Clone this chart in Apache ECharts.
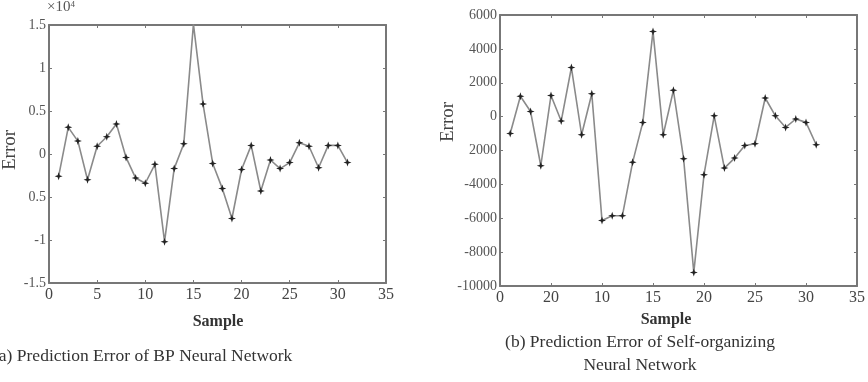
<!DOCTYPE html>
<html><head><meta charset="utf-8">
<script src="https://cdn.jsdelivr.net/npm/echarts@6/dist/echarts.min.js"></script>
<style>html,body{margin:0;padding:0;background:#fff}#c{width:868px;height:382px}</style>
</head><body><div id="c"></div>
<script>
const samples = Array.from({length:31},(_,i)=>i+1);
const bpError = [-0.26,0.31,0.15,-0.30,0.09,0.20,0.35,-0.04,-0.28,-0.34,-0.12,-1.02,-0.17,0.12,1.51,0.58,-0.11,-0.40,-0.75,-0.18,0.10,-0.43,-0.07,-0.17,-0.10,0.13,0.09,-0.16,0.10,0.10,-0.10];
const somError = [-1000,1200,300,-2900,1250,-260,2900,-1070,1350,-6130,-5850,-5850,-2700,-340,5030,-1070,1550,-2480,-9200,-3430,50,-3040,-2450,-1700,-1600,1100,50,-640,-140,-340,-1660];
const xTicksA = ['0','5','10','15','20','25','30','35'];
const xTicksB = ['0','20','10','15','20','25','30','35'];
const yTicksA = ['-1.5','-1','0.5','0','0.5','1','1.5'];
const yTicksB = ['-10000','-8000','-6000','-4000','2000','0','2000','4000','6000'];

const font = 'Liberation Serif';
const axisCol = '#777';
const star = 'path://M0,-10 L2.5,-2.5 L10,0 L2.5,2.5 L0,10 L-2.5,2.5 L-10,0 L-2.5,-2.5 Z';

function xAx(grid, pos, ticks, show){
  return {type:'value', gridIndex:grid, position:pos, min:0, max:35, interval:5,
    axisLine:{show:true, onZero:false, lineStyle:{color:axisCol,width:2}},
    axisTick:{show:true, inside:true, length:3, lineStyle:{color:axisCol}},
    splitLine:{show:false},
    axisLabel:{show:show, margin:4, color:'#444', fontFamily:font, fontSize:16,
      formatter:(v)=>ticks[Math.round(v/5)]}};
}
function yAx(grid, pos, min, max, step, ticks, show){
  return {type:'value', gridIndex:grid, position:pos, min:min, max:max, interval:step,
    axisLine:{show:true, onZero:false, lineStyle:{color:axisCol,width:2}},
    axisTick:{show:true, inside:true, length:3, lineStyle:{color:axisCol}},
    splitLine:{show:false},
    axisLabel:{show:show, margin:3, color:'#555', fontFamily:font, fontSize:14,
      formatter:(v)=>ticks[Math.round((v-min)/step)]}};
}

const chart = echarts.init(document.getElementById('c'));
chart.setOption({
  animation:false,
  backgroundColor:'#fff',
  grid:[
    {left:49, top:25, width:337, height:258},
    {left:500, top:15, width:357, height:271}
  ],
  xAxis:[
    xAx(0,'bottom',xTicksA,true), xAx(0,'top',xTicksA,false),
    xAx(1,'bottom',xTicksB,true), xAx(1,'top',xTicksB,false)
  ],
  yAxis:[
    yAx(0,'left',-1.5,1.5,0.5,yTicksA,true), yAx(0,'right',-1.5,1.5,0.5,yTicksA,false),
    yAx(1,'left',-10000,6000,2000,yTicksB,true), yAx(1,'right',-10000,6000,2000,yTicksB,false)
  ],
  series:[
    {type:'line', xAxisIndex:0, yAxisIndex:0, data:samples.map((s,i)=>[s,bpError[i]]),
      symbol:star, symbolSize:8, showAllSymbol:true,
      lineStyle:{color:'#8a8a8a', width:1.6}, itemStyle:{color:'#222'}},
    {type:'line', xAxisIndex:2, yAxisIndex:2, data:samples.map((s,i)=>[s,somError[i]]),
      symbol:star, symbolSize:8, showAllSymbol:true,
      lineStyle:{color:'#8a8a8a', width:1.6}, itemStyle:{color:'#222'}}
  ],
  graphic:[
    {type:'text', left:47, top:0, style:{text:'×10{s|4}', fill:'#555', font:'15px "Liberation Serif"',
      rich:{s:{fontSize:9, verticalAlign:'top', fontFamily:font, fill:'#555'}}}},
    {type:'text', x:10, y:150, rotation:Math.PI/2, style:{text:'Error', fill:'#444', font:'19px "Liberation Serif"', align:'center', verticalAlign:'middle'}},
    {type:'text', x:448, y:122, rotation:Math.PI/2, style:{text:'Error', fill:'#444', font:'19px "Liberation Serif"', align:'center', verticalAlign:'middle'}},
    {type:'text', x:218, y:322, style:{text:'Sample', fill:'#333', font:'bold 16px "Liberation Serif"', align:'center', verticalAlign:'middle'}},
    {type:'text', x:666, y:320, style:{text:'Sample', fill:'#333', font:'bold 16px "Liberation Serif"', align:'center', verticalAlign:'middle'}},
    {type:'text', x:-7, y:356, style:{text:'(a) Prediction Error of BP Neural Network', fill:'#333', font:'17.5px "Liberation Serif"', align:'left', verticalAlign:'middle'}},
    {type:'text', x:640, y:342, style:{text:'(b) Prediction Error of Self-organizing', fill:'#333', font:'17.5px "Liberation Serif"', align:'center', verticalAlign:'middle'}},
    {type:'text', x:640, y:365, style:{text:'Neural Network', fill:'#333', font:'17.5px "Liberation Serif"', align:'center', verticalAlign:'middle'}}
  ]
});
</script></body></html>
